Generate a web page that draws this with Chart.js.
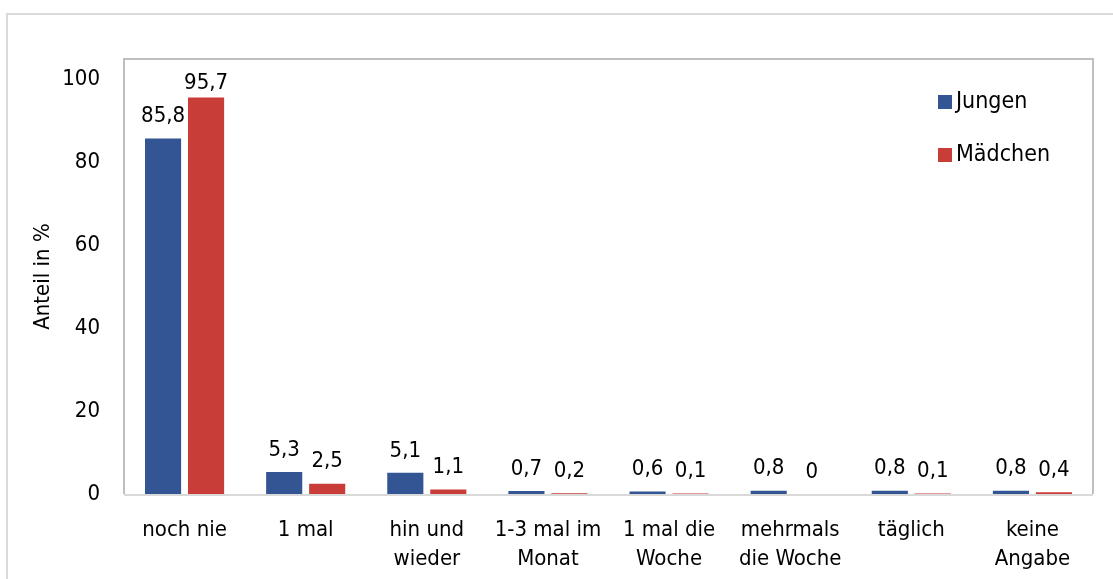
<!DOCTYPE html>
<html>
<head>
<meta charset="utf-8">
<script src="https://cdn.jsdelivr.net/npm/chart.js@4/dist/chart.umd.min.js"></script>
<style>
  html, body { margin:0; padding:0; background:#fff; }
  #wrap { position:relative; width:1113px; height:579px; overflow:hidden; }
  #rahmen { position:absolute; left:6px; top:13px; width:1120px; height:600px; border:2px solid #d9d9d9; box-sizing:border-box; }
  canvas { position:absolute; left:0; top:0; }
</style>
</head>
<body>
<div id="wrap">
  <div id="rahmen"></div>
  <canvas id="chart" width="1113" height="579"></canvas>
</div>
<script>
const SCHRIFT = "'DejaVu Sans Condensed', 'Liberation Sans', sans-serif";
Chart.defaults.font.family = SCHRIFT;
Chart.defaults.color = '#000';

const kategorien = [['noch nie'], ['1 mal'], ['hin und', 'wieder'], ['1-3 mal im', 'Monat'], ['1 mal die', 'Woche'], ['mehrmals', 'die Woche'], ['täglich'], ['keine', 'Angabe']];
const jungen  = [85.8, 5.3, 5.1, 0.7, 0.6, 0.8, 0.8, 0.8];
const maedchen = [95.7, 2.5, 1.1, 0.2, 0.1, 0, 0.1, 0.4];
const serien = ['Jungen', 'Mädchen'];
const yTicks = [0, 20, 40, 60, 80, 100];
const FARBEN = { blau:'#335593', rot:'#C83D38', rahmen:'#bfbfbf', achse:'#d9d9d9' };

// Rahmen um Plotbereich (unter den Balken)
const plotRahmen = {
  id: 'plotRahmen',
  beforeDatasetsDraw(chart) {
    const a = chart.chartArea, ctx = chart.ctx;
    ctx.save();
    ctx.strokeStyle = FARBEN.rahmen;
    ctx.lineWidth = 2;
    ctx.beginPath();
    ctx.moveTo(a.left, a.bottom);
    ctx.lineTo(a.left, a.top);
    ctx.lineTo(a.right, a.top);
    ctx.lineTo(a.right, a.bottom);
    ctx.stroke();
    ctx.strokeStyle = FARBEN.achse;
    ctx.lineWidth = 2;
    ctx.beginPath();
    ctx.moveTo(a.left, a.bottom + 1);
    ctx.lineTo(a.right, a.bottom + 1);
    ctx.stroke();
    ctx.restore();
  }
};

// Werte über den Balken
const werteLabels = {
  id: 'werteLabels',
  afterDatasetsDraw(chart) {
    const ctx = chart.ctx;
    ctx.save();
    ctx.font = '22px ' + SCHRIFT;
    ctx.fillStyle = '#000';
    ctx.textAlign = 'center';
    ctx.textBaseline = 'middle';
    chart.data.datasets.forEach((ds, i) => {
      chart.getDatasetMeta(i).data.forEach((bar, j) => {
        const y = Math.max(bar.y - 22, chart.chartArea.top + 24);
        ctx.fillText(ds.data[j].toString().replace('.', ','), bar.x, y);
      });
    });
    ctx.restore();
  }
};

// Legende oben rechts im Plotbereich
const legendeRechts = {
  id: 'legendeRechts',
  afterDraw(chart) {
    const ctx = chart.ctx;
    ctx.save();
    ctx.font = '23px ' + SCHRIFT;
    ctx.textBaseline = 'middle';
    const pos = [[938, 102], [938, 155]];
    chart.data.datasets.forEach((ds, i) => {
      ctx.fillStyle = ds.backgroundColor;
      ctx.fillRect(pos[i][0], pos[i][1] - 7, 14, 14);
      ctx.fillStyle = '#000';
      ctx.fillText(ds.label, pos[i][0] + 18, pos[i][1]);
    });
    ctx.restore();
  }
};

new Chart(document.getElementById('chart'), {
  type: 'bar',
  data: {
    labels: kategorien,
    datasets: [
      { label: serien[0], data: jungen, backgroundColor: FARBEN.blau, categoryPercentage: 0.71, barPercentage: 0.84 },
      { label: serien[1], data: maedchen, backgroundColor: FARBEN.rot, categoryPercentage: 0.71, barPercentage: 0.84 }
    ]
  },
  options: {
    responsive: false,
    animation: false,
    layout: { padding: { left: 0, right: 20, top: 59, bottom: 0 } },
    plugins: { legend: { display: false }, tooltip: { enabled: false } },
    scales: {
      x: {
        grid: { display: false, drawTicks: false },
        border: { display: false },
        ticks: { font: { size: 22, lineHeight: 1.32 }, padding: 22, maxRotation: 0, autoSkip: false },
        afterFit: s => { s.height = 579 - 494; }
      },
      y: {
        min: 0, max: 105,
        grid: { display: false, drawTicks: false },
        border: { display: false },
        ticks: { font: { size: 22 }, padding: 24, stepSize: 20 },
        afterBuildTicks: s => { s.ticks = yTicks.map(v => ({ value: v })); },
        title: { display: true, text: 'Anteil in %', font: { size: 22 }, padding: { top: 30, bottom: 0 } },
        afterFit: s => { s.width = 124; }
      }
    }
  },
  plugins: [plotRahmen, werteLabels, legendeRechts]
});
</script>
</body>
</html>
